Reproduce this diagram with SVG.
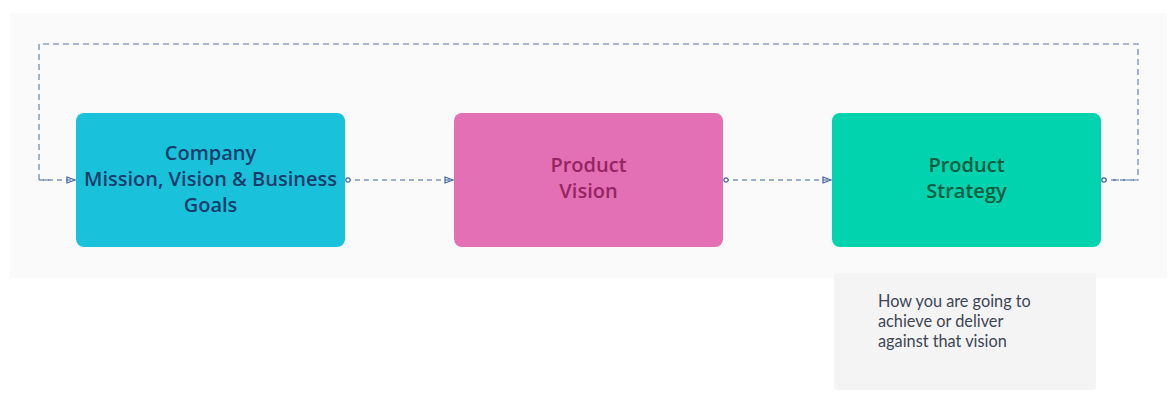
<svg xmlns="http://www.w3.org/2000/svg" width="1170" height="412" viewBox="0 0 1170 412">
<defs>
<style>
.lbl{font-family:"Open Sans","Noto Sans",sans-serif;font-weight:600;font-size:20px;text-anchor:middle}
.note{font-family:Lato,"Liberation Sans",sans-serif;font-size:16.3px;fill:#3C4656}
.con{fill:none;stroke:#3D639C;stroke-width:1.2;stroke-dasharray:5 4}
.loop{fill:none;stroke:#8DA2C2;stroke-width:1.6;stroke-dasharray:6 4}
</style>
<marker id="arr" markerWidth="10" markerHeight="8" refX="9" refY="4" orient="auto" markerUnits="userSpaceOnUse">
<path d="M1,1 L9,4 L1,7 Z" fill="none" stroke="#3D639C" stroke-width="1.2"/>
</marker>
<marker id="dot" markerWidth="8" markerHeight="8" refX="2" refY="4" orient="auto" markerUnits="userSpaceOnUse">
<circle cx="4" cy="4" r="2.2" fill="#fff" stroke="#3D639C" stroke-width="1.2"/>
</marker>
</defs>
<rect width="1170" height="412" fill="#fff"/>
<rect x="10" y="13" width="1157" height="265" fill="#FAFAFB"/>
<g id="connectors">
<path class="loop" d="M1113,180 H1138 V44 H39 V180 H50"/>
<path class="con" d="M1102,180 H1138"/>
<path class="con" d="M39,180 H75" marker-end="url(#arr)"/>
<path class="con" d="M346,180 H453" marker-start="url(#dot)" marker-end="url(#arr)"/>
<path class="con" d="M724,180 H831" marker-start="url(#dot)" marker-end="url(#arr)"/>
<circle cx="1104" cy="180" r="2.2" fill="#fff" stroke="#3D639C" stroke-width="1.2"/>
</g>
<g id="company">
<rect x="76" y="113" width="269" height="134" rx="8" fill="#19C2DA"/>
<text class="lbl" fill="#163C6B"><tspan x="210.5" y="160">Company</tspan><tspan x="210.5" y="186">Mission, Vision &amp; Business</tspan><tspan x="210.5" y="212">Goals</tspan></text>
</g>
<g id="product-vision">
<rect x="454" y="113" width="269" height="134" rx="8" fill="#E36FB4"/>
<text class="lbl" fill="#942562"><tspan x="588.5" y="172">Product</tspan><tspan x="588.5" y="198">Vision</tspan></text>
</g>
<g id="product-strategy">
<rect x="832" y="113" width="269" height="134" rx="8" fill="#00D3AE"/>
<text class="lbl" fill="#0D5C3E"><tspan x="966.5" y="172">Product</tspan><tspan x="966.5" y="198">Strategy</tspan></text>
</g>
<g id="note">
<rect x="834" y="273" width="262" height="117" rx="3" fill="#F4F4F4"/>
<text class="note"><tspan x="878" y="307">How you are going to</tspan><tspan x="878" y="327">achieve or deliver</tspan><tspan x="878" y="347">against that vision</tspan></text>
</g>
</svg>
